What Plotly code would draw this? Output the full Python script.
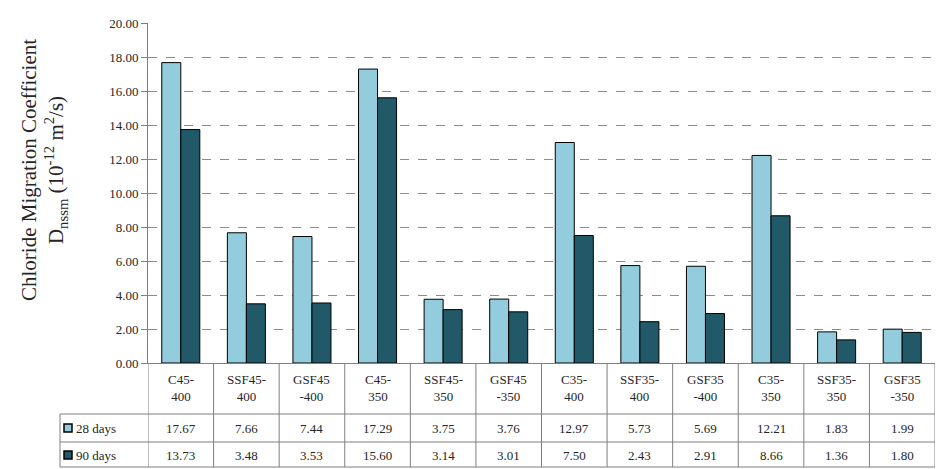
import plotly.graph_objects as go

# Mix designs and their chloride migration coefficients (x 10^-12 m²/s)
categories = ["C45-400", "SSF45-400", "GSF45-400", "C45-350", "SSF45-350", "GSF45-350",
              "C35-400", "SSF35-400", "GSF35-400", "C35-350", "SSF35-350", "GSF35-350"]
category_labels = ["C45-<br>400", "SSF45-<br>400", "GSF45<br>-400", "C45-<br>350",
                   "SSF45-<br>350", "GSF45<br>-350", "C35-<br>400", "SSF35-<br>400",
                   "GSF35<br>-400", "C35-<br>350", "SSF35-<br>350", "GSF35<br>-350"]
days_28 = [17.67, 7.66, 7.44, 17.29, 3.75, 3.76, 12.97, 5.73, 5.69, 12.21, 1.83, 1.99]
days_90 = [13.73, 3.48, 3.53, 15.60, 3.14, 3.01, 7.50, 2.43, 2.91, 8.66, 1.36, 1.80]
series_names = ["28 days", "90 days"]
y_ticks = [0, 2, 4, 6, 8, 10, 12, 14, 16, 18, 20]

LIGHT = "#93CDDD"
DARK = "#215968"
TEXT = "#262626"
BORDER = "#7F7F7F"
FONT = "Liberation Serif"

W, H = 938, 469
L, R, T, B = 148, 3, 23, 106
plot_w = W - L - R
plot_h = H - T - B
axis_px = H - B


def py(pix):
    """Pixel row -> paper y."""
    return (axis_px - pix) / plot_h


def px(pix):
    """Pixel column -> paper x."""
    return (pix - L) / plot_w


fig = go.Figure()
for name, vals, col in [(series_names[0], days_28, LIGHT), (series_names[1], days_90, DARK)]:
    fig.add_trace(go.Bar(
        x=categories, y=vals, name=name,
        marker=dict(color=col, line=dict(color="#000000", width=1)),
    ))

# Data table below the plot area
row_lines = [414, 442, 467]
shapes = []
for yy in row_lines:
    shapes.append(dict(type="line", xref="paper", yref="paper",
                       x0=px(60), x1=1, y0=py(yy), y1=py(yy),
                       line=dict(color=BORDER, width=1)))
for i in range(len(categories) + 1):
    shapes.append(dict(type="line", xref="x", yref="paper",
                       x0=i - 0.5, x1=i - 0.5, y0=0, y1=py(row_lines[-1]),
                       line=dict(color=BORDER, width=1)))
shapes.append(dict(type="line", xref="paper", yref="paper",
                   x0=px(60), x1=px(60), y0=py(row_lines[0]), y1=py(row_lines[-1]),
                   line=dict(color=BORDER, width=1)))

row_centres = [428, 455]
for rc, col in zip(row_centres, [LIGHT, DARK]):
    shapes.append(dict(type="rect", xref="paper", yref="paper",
                       x0=px(64), x1=px(72), y0=py(rc + 4), y1=py(rc - 4),
                       fillcolor=col, line=dict(color="#000000", width=1.5)))

annotations = []
for cat, lab in zip(categories, category_labels):
    annotations.append(dict(x=cat, y=py(388), xref="x", yref="paper", text=lab,
                            showarrow=False, font=dict(family=FONT, size=13, color=TEXT),
                            xanchor="center", yanchor="middle"))
for rc, name, vals in zip(row_centres, series_names, [days_28, days_90]):
    annotations.append(dict(x=px(74), y=py(rc), xref="paper", yref="paper", text=name,
                            showarrow=False, font=dict(family=FONT, size=13, color=TEXT),
                            xanchor="left", yanchor="middle"))
    for cat, v in zip(categories, vals):
        annotations.append(dict(x=cat, y=py(rc), xref="x", yref="paper", text=f"{v:.2f}",
                                showarrow=False, font=dict(family=FONT, size=13, color=TEXT),
                                xanchor="center", yanchor="middle"))

annotations.append(dict(
    x=px(44), y=py(170), xref="paper", yref="paper", textangle=-90,
    text="Chloride Migration Coefficient<br>D<sub>nssm</sub> (10<sup>-12</sup> m<sup>2</sup>/s)",
    showarrow=False, font=dict(family=FONT, size=21, color=TEXT),
    xanchor="center", yanchor="middle"))

fig.update_layout(
    width=W, height=H,
    margin=dict(l=L, r=R, t=T, b=B),
    paper_bgcolor="white", plot_bgcolor="white",
    barmode="group", bargap=0.42, bargroupgap=0,
    showlegend=False,
    font=dict(family=FONT, color=TEXT),
    shapes=shapes, annotations=annotations,
    xaxis=dict(type="category", range=[-0.5, len(categories) - 0.5],
               showticklabels=False, showgrid=False, zeroline=False,
               showline=True, linecolor=BORDER, linewidth=1, ticks=""),
    yaxis=dict(range=[0, 20], tickvals=y_ticks, tickformat=".2f",
               tickfont=dict(family=FONT, size=13, color=TEXT),
               showline=True, linecolor=BORDER, linewidth=1,
               ticks="outside", ticklen=6, tickcolor=BORDER,
               showgrid=True, gridcolor="#8C8C8C", griddash="dash", gridwidth=1,
               zeroline=False),
)

fig.write_html("out.html")
